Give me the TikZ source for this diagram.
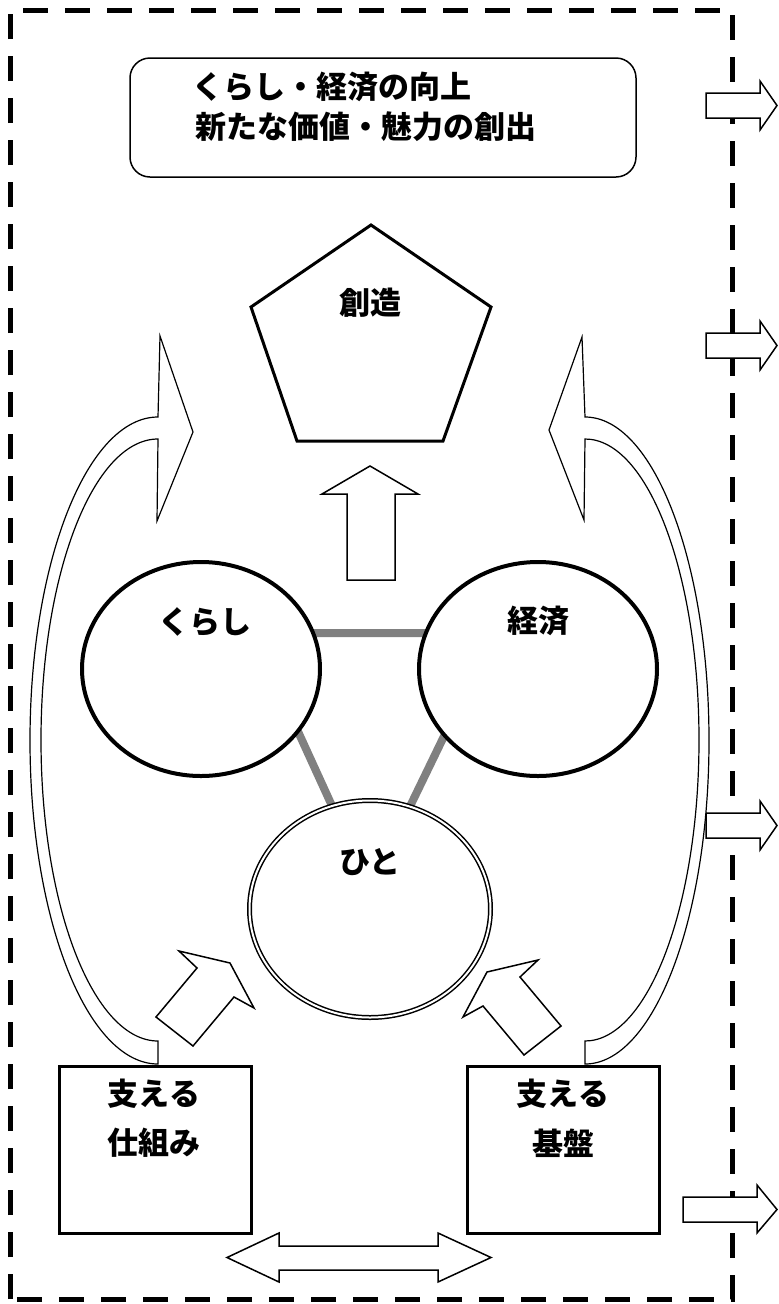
\documentclass[tikz,border=0pt]{standalone}
\usepackage{fontspec}
\newfontfamily\jp{Noto Sans CJK JP}
\usetikzlibrary{shapes.geometric}
\tikzset{
  blk/.style={draw=black, fill=white, line width=1.5pt, line join=miter},
  lbl/.style={font=\jp\bfseries\fontsize{31}{36}\selectfont, inner sep=0pt},
  thickbox/.style={draw=black, fill=white, line width=3pt, inner sep=0pt},
  oval/.style={ellipse, draw=black, fill=white, line width=4pt, inner sep=0pt, minimum width=238pt, minimum height=214pt},
}
\begin{document}
\begin{tikzpicture}[x=1pt, y=-1pt]
\useasboundingbox (0,0) rectangle (779,1304);
% dashed frame
\draw[line width=5pt, dash pattern=on 25pt off 17pt] (10,1299) -- (10,10) -- (732,10) -- (732,1299) -- cycle;
% outgoing arrows on the right
\draw[blk] (706,93) -- (760,93) -- (760,81) -- (777,105.5) -- (760,130) -- (760,118) -- (706,118) -- cycle;
\draw[blk] (706,333) -- (760,333) -- (760,321) -- (777,345.5) -- (760,370) -- (760,358) -- (706,358) -- cycle;
\draw[blk] (706,813) -- (760,813) -- (760,801) -- (777,825.5) -- (760,850) -- (760,838) -- (706,838) -- cycle;
\draw[blk] (683,1197) -- (757,1197) -- (757,1185) -- (777,1209.5) -- (757,1233) -- (757,1222) -- (683,1222) -- cycle;
% goal box
\node[draw=black, line width=1.5pt, rounded corners=20pt, minimum width=506pt, minimum height=119pt, inner sep=0pt] (goal) at (383,117.5) {};
\node[lbl, anchor=west] (goal1) at (192,87) {くらし・経済の向上};
\node[lbl, anchor=west] (goal2) at (195,127) {新たな価値・魅力の創出};
% pentagon
\draw[line width=3pt, line join=miter] (371,225) -- (491,307) -- (443,441) -- (297,441) -- (251,307) -- cycle;
\node[lbl] (souzou) at (370,303) {創造};
% up arrow
\draw[blk] (370,466) -- (418,494) -- (395,494) -- (395,580) -- (347,580) -- (347,494) -- (322,494) -- cycle;
% curved arrows
\draw[blk, line width=1.2pt] (158,1064) arc[start angle=270, end angle=90, x radius=128pt, y radius=323.5pt]
  -- (160,336) -- (193,432) -- (157,521) -- (158,439)
  arc[start angle=90, end angle=270, x radius=117pt, y radius=301pt] -- cycle;
\draw[blk, line width=1.2pt] (585,1064) arc[start angle=-90, end angle=90, x radius=124pt, y radius=323.5pt]
  -- (582,337) -- (549,430) -- (584,520) -- (585,439)
  arc[start angle=90, end angle=-90, x radius=114pt, y radius=301pt] -- cycle;
% gray triangle
\draw[line width=8pt, color={rgb,255:red,128;green,128;blue,128}] (253,633) -- (494,633) -- (370,889) -- cycle;
% ovals
\node[oval] (kurashi) at (201,669) {};
\node[oval] (keizai) at (538,669) {};
\node[ellipse, draw=black, double=white, double distance=2pt, line width=1.5pt, fill=white, inner sep=0pt, minimum width=241pt, minimum height=217pt] (hito) at (370,909) {};
\node[lbl] (t-kurashi) at (205,622) {くらし};
\node[lbl] (t-keizai) at (538,621) {経済};
\node[lbl] (t-hito) at (370,862) {ひと};
% diagonal arrows
\draw[blk] (230,963) -- (179,951) -- (197,968) -- (156,1017) -- (193,1046) -- (234,997) -- (254,1008) -- cycle;
\draw[blk] (487,972) -- (538,960) -- (520,977) -- (561,1026) -- (524,1055) -- (483,1006) -- (463,1017) -- cycle;
% bottom boxes
\node[thickbox, minimum width=192pt, minimum height=167pt] (shikumi) at (155,1149.5) {};
\node[thickbox, minimum width=192pt, minimum height=167pt] (kiban) at (563,1149.5) {};
\node[lbl] (s1) at (154,1094) {支える};
\node[lbl] (s2) at (154,1143) {仕組み};
\node[lbl] (k1) at (563,1094) {支える};
\node[lbl] (k2) at (563,1143) {基盤};
% double arrow
\draw[blk] (227,1257.5) -- (279,1233) -- (279,1246) -- (438,1246) -- (438,1233) -- (491,1257.5) -- (438,1282) -- (438,1270) -- (279,1270) -- (279,1282) -- cycle;
\end{tikzpicture}
\end{document}
